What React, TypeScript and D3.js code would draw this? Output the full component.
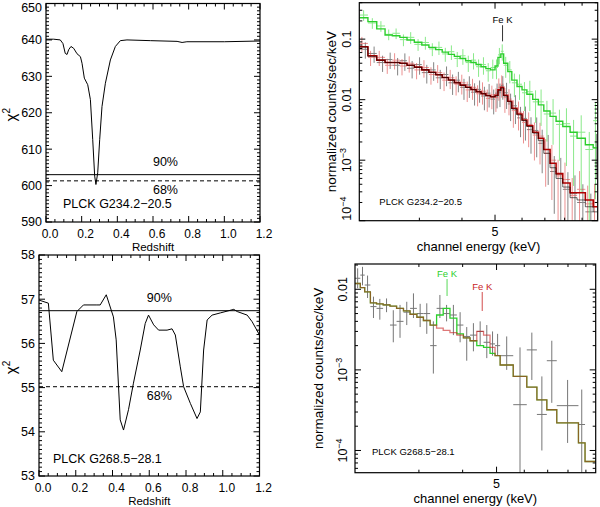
import * as d3 from "d3";
import React, { useEffect, useRef } from "react";

// redshift scan, PLCK G234.2-20.5
const zScanA = [0, 0.043, 0.08, 0.095, 0.108, 0.118, 0.127, 0.14, 0.155, 0.174, 0.193, 0.202, 0.215, 0.234, 0.249, 0.262, 0.273, 0.28, 0.29, 0.301, 0.314, 0.333, 0.361, 0.389, 0.417, 0.454, 0.585, 0.735, 0.763, 0.79, 1.0, 1.2];
const chiScanA = [640.2, 640.2, 640.0, 639.0, 636.3, 636.0, 637.3, 638.2, 637.7, 636.2, 635.4, 633.6, 629.5, 627.7, 623.6, 612.6, 602.6, 600.3, 603.5, 612.6, 621.7, 628.1, 634.5, 638.2, 639.8, 640.0, 639.8, 639.6, 639.3, 639.5, 639.5, 639.7];
const levelsA = [603.0, 601.3];

// redshift scan, PLCK G268.5-28.1
const zScanB = [0, 0.051, 0.078, 0.124, 0.206, 0.242, 0.315, 0.333, 0.366, 0.405, 0.42, 0.442, 0.46, 0.487, 0.514, 0.551, 0.578, 0.596, 0.624, 0.651, 0.697, 0.724, 0.742, 0.769, 0.787, 0.824, 0.86, 0.878, 0.896, 0.915, 0.942, 0.987, 1.06, 1.079, 1.133, 1.16, 1.2];
const chiScanB = [56.98, 56.91, 55.62, 55.36, 56.72, 56.87, 56.87, 56.87, 57.1, 56.6, 56.08, 54.27, 54.04, 54.5, 55.1, 55.85, 56.45, 56.64, 56.42, 56.3, 56.3, 56.33, 56.19, 55.47, 55.02, 54.64, 54.3, 54.45, 55.85, 56.53, 56.64, 56.69, 56.77, 56.72, 56.64, 56.49, 56.19];
const levelsB = [56.74, 55.02];

// spectrum, PLCK G234.2-20.5 (keV bin edges, counts/s/keV)
const edgesA = [2.0, 2.12, 2.25, 2.38, 2.5, 2.63, 2.76, 2.9, 3.05, 3.2, 3.35, 3.5, 3.65, 3.8, 3.95, 4.1, 4.25, 4.4, 4.55, 4.7, 4.85, 5.0, 5.1, 5.2, 5.3, 5.45, 5.6, 5.8, 6.0, 6.2, 6.45, 6.7, 6.95, 7.25, 7.55, 7.9, 8.3, 8.7, 9.2, 9.7, 10.0];
const greenModelA = [0.225, 0.195, 0.148, 0.117, 0.114, 0.107, 0.097, 0.089, 0.08, 0.073, 0.067, 0.061, 0.056, 0.052, 0.048, 0.044, 0.041, 0.038, 0.035, 0.0326, 0.031, 0.036, 0.05, 0.057, 0.04, 0.029, 0.021, 0.0165, 0.0145, 0.0123, 0.0101, 0.0082, 0.0065, 0.0053, 0.0044, 0.0036, 0.0029, 0.0023, 0.0018, 0.0016];
const redModelA = [0.075, 0.053, 0.045, 0.041, 0.041, 0.04, 0.037, 0.0345, 0.031, 0.0283, 0.0258, 0.0233, 0.0211, 0.0191, 0.0174, 0.016, 0.0147, 0.0136, 0.0126, 0.0117, 0.0112, 0.0118, 0.0145, 0.016, 0.0118, 0.0094, 0.0072, 0.0058, 0.0046, 0.0037, 0.0029, 0.0023, 0.0015, 0.00089, 0.0006, 0.00042, 0.00029, 0.00029, 0.00022, 0.00017];
const blackModelA = [0.074, 0.052, 0.045, 0.041, 0.041, 0.04, 0.037, 0.0343, 0.031, 0.0282, 0.0257, 0.0232, 0.021, 0.019, 0.0173, 0.0159, 0.0146, 0.0135, 0.0125, 0.0116, 0.0111, 0.0115, 0.014, 0.0155, 0.0115, 0.0092, 0.007, 0.0056, 0.0045, 0.0036, 0.0028, 0.0021, 0.0013, 0.00075, 0.0005, 0.00036, 0.00024, 0.00022, 0.00017, 0.00014];
const greenDataA = [0.25, 0.185, 0.165, 0.12, 0.125, 0.098, 0.107, 0.082, 0.088, 0.069, 0.073, 0.057, 0.062, 0.048, 0.053, 0.041, 0.045, 0.035, 0.038, 0.03, 0.034, 0.034, 0.055, 0.063, 0.037, 0.031, 0.019, 0.018, 0.013, 0.0135, 0.0092, 0.0092, 0.0058, 0.006, 0.0039, 0.004, 0.0025, 0.0029, 0.0015, 0.0045];
const redDataA = [0.085, 0.05, 0.05, 0.037, 0.045, 0.036, 0.04, 0.031, 0.034, 0.026, 0.028, 0.021, 0.023, 0.018, 0.019, 0.0145, 0.016, 0.0125, 0.0138, 0.0105, 0.012, 0.0108, 0.016, 0.018, 0.0108, 0.0102, 0.0066, 0.0062, 0.0042, 0.0039, 0.0026, 0.0025, 0.0013, 0.001, 0.00055, 0.00048, 0.00026, 0.00033, 0.00019, 0.0002];
const blackDataA = [0.068, 0.058, 0.041, 0.046, 0.037, 0.044, 0.033, 0.038, 0.028, 0.031, 0.023, 0.026, 0.019, 0.021, 0.016, 0.0175, 0.0133, 0.0148, 0.0115, 0.0128, 0.0102, 0.0128, 0.013, 0.0172, 0.013, 0.0085, 0.0079, 0.005, 0.0049, 0.0032, 0.0031, 0.0019, 0.0015, 0.00065, 0.00058, 0.00033, 0.00028, 0.0002, 0.00014, 0.0016];
// relative 1-sigma errors
const greenErrA = [0.2, 0.2, 0.2, 0.2, 0.2, 0.22, 0.22, 0.22, 0.24, 0.24, 0.25, 0.26, 0.27, 0.28, 0.29, 0.3, 0.3, 0.32, 0.32, 0.34, 0.35, 0.36, 0.3, 0.3, 0.38, 0.4, 0.42, 0.45, 0.5, 0.52, 0.55, 0.6, 0.65, 0.7, 0.75, 0.8, 0.85, 0.9, 0.95, 0.95];
const redErrA = [0.28, 0.28, 0.28, 0.28, 0.3, 0.3, 0.3, 0.3, 0.32, 0.32, 0.33, 0.34, 0.35, 0.35, 0.36, 0.37, 0.38, 0.38, 0.4, 0.4, 0.42, 0.42, 0.4, 0.4, 0.44, 0.46, 0.48, 0.5, 0.55, 0.58, 0.62, 0.66, 0.72, 0.78, 0.85, 0.9, 0.95, 1, 1, 1];
const blackErrA = [0.3, 0.3, 0.3, 0.3, 0.32, 0.32, 0.32, 0.32, 0.34, 0.34, 0.35, 0.36, 0.37, 0.37, 0.38, 0.39, 0.4, 0.4, 0.42, 0.42, 0.44, 0.44, 0.42, 0.42, 0.46, 0.48, 0.5, 0.52, 0.57, 0.6, 0.64, 0.68, 0.74, 0.8, 0.88, 0.92, 1, 1, 1, 0.7];
const feLineA = [5.26];

// spectrum, PLCK G268.5-28.1
const edgesB = [1.97, 2.04, 2.1, 2.18, 2.27, 2.37, 2.48, 2.59, 2.71, 2.83, 2.96, 3.09, 3.23, 3.37, 3.52, 3.68, 3.85, 4.02, 4.2, 4.39, 4.59, 4.79, 4.95, 5.12, 5.58, 6.1, 6.52, 6.96, 7.43, 8.57, 8.95, 9.6];
const greenModelB = [0.0118, 0.0105, 0.0093, 0.0068, 0.0066, 0.0064, 0.0062, 0.0058, 0.0054, 0.0049, 0.0045, 0.0041, 0.0036, 0.0048, 0.0058, 0.0044, 0.0028, 0.0025, 0.0023, 0.002, 0.0019, 0.0016, 0.0015, 0.00115, 0.00083, 0.00061, 0.000425, 0.00032, 0.00022, 0.000124, 0.000073];
const redModelB = [0.0118, 0.0105, 0.0093, 0.0068, 0.0066, 0.0064, 0.0062, 0.0058, 0.0054, 0.0049, 0.0045, 0.0041, 0.0036, 0.0033, 0.0031, 0.0029, 0.0027, 0.0025, 0.0023, 0.003, 0.0027, 0.0019, 0.0015, 0.00115, 0.00083, 0.00061, 0.000425, 0.00032, 0.00022, 0.000124, 0.000073];
const dataB = [0.0137, 0.015, 0.0113, 0.0061, 0.0058, 0.0064, 0.0036, 0.004, 0.0052, 0.0058, 0.005, 0.005, 0.002, 0.0058, 0.005, 0.0048, 0.0036, 0.0026, 0.0027, 0.003, 0.0022, 0.0021, 0.002, 0.0015, 0.00037, 0.00177, 0.00028, 0.0013, 0.00036, 0.00021, NaN];
const loB = [0.0103, 0.0112, 0.0078, 0.0044, 0.0042, 0.0052, 0.0022, 0.0025, 0.0036, 0.0044, 0.0034, 0.0028, 0.0009, 0.0044, 0.004, 0.0027, 0.0022, 0.0013, 0.0017, 0.002, 0.0014, 0.0015, 0.0015, 0.001, 0, 0.00075, 0.0001, 0.00039, 0.000124, 0, NaN];
const hiB = [0.0182, 0.019, 0.0148, 0.0081, 0.0076, 0.0077, 0.0055, 0.0064, 0.007, 0.0089, 0.0066, 0.0067, 0.004, 0.0085, 0.0064, 0.0064, 0.0052, 0.0034, 0.0038, 0.004, 0.0036, 0.003, 0.0028, 0.0026, 0.0019, 0.0029, 0.00083, 0.0023, 0.00075, 0.00057, NaN];
const feLinesB = [3.61, 4.55];

const FONT = "'Liberation Sans', Arial, Helvetica, sans-serif";
const GREEN = "#2ccf2c";
const RED = "#c81e1e";

function isMult(v: number, step: number) {
  return Math.abs(v / step - Math.round(v / step)) < 1e-6;
}

// inward ticks on all four sides + frame
function frameTicks(g: any, x: any, y: any, xt: any[], yt: any[]) {
  const [x0, x1] = x.range();
  const [yb, yt0] = y.range();
  const t = g.append("g").attr("stroke", "#000").attr("stroke-width", 1);
  xt.forEach(([v, m]: any) => {
    const p = x(v);
    const L = m ? 6 : 3;
    t.append("line").attr("x1", p).attr("x2", p).attr("y1", yb).attr("y2", yb - L);
    t.append("line").attr("x1", p).attr("x2", p).attr("y1", yt0).attr("y2", yt0 + L);
  });
  yt.forEach(([v, m]: any) => {
    const p = y(v);
    const L = m ? 6 : 3;
    t.append("line").attr("x1", x0).attr("x2", x0 + L).attr("y1", p).attr("y2", p);
    t.append("line").attr("x1", x1).attr("x2", x1 - L).attr("y1", p).attr("y2", p);
  });
  g.append("rect")
    .attr("x", x0).attr("y", yt0)
    .attr("width", x1 - x0).attr("height", yb - yt0)
    .attr("fill", "none").attr("stroke", "#000").attr("stroke-width", 1.2);
}

function drawScan(svg: any, o: any) {
  const x = d3.scaleLinear().domain([0, 1.2]).range([o.left, o.right]);
  const y = d3.scaleLinear().domain(o.yDomain).range([o.bottom, o.top]);
  const g = svg.append("g");

  const xt = d3.range(0, 1.2001, 0.05).map((v) => [v, isMult(v, 0.2)]);
  const yt = d3
    .range(o.yDomain[0], o.yDomain[1] + 1e-9, o.yMinor)
    .map((v) => [v, isMult(v - o.yDomain[0], o.yMajor)]);
  frameTicks(g, x, y, xt, yt);

  // tick labels
  g.append("g")
    .selectAll("text")
    .data(d3.range(0, 1.2001, 0.2))
    .join("text")
    .attr("x", (d: number) => x(d) + 4)
    .attr("y", o.bottom + 16)
    .attr("text-anchor", "middle")
    .attr("font-size", 12)
    .text((d: number) => d3.format(".1f")(d));
  g.append("g")
    .selectAll("text")
    .data(d3.range(o.yDomain[0], o.yDomain[1] + 1e-9, o.yMajor))
    .join("text")
    .attr("x", o.left - 4)
    .attr("y", (d: number) => Math.max(y(d) + 4.4, 12))
    .attr("text-anchor", "end")
    .attr("font-size", 12.5)
    .text((d: number) => d3.format("d")(d));

  g.append("text")
    .attr("x", (o.left + o.right) / 2)
    .attr("y", o.bottom + 29)
    .attr("text-anchor", "middle")
    .attr("font-size", 11.5)
    .text("Redshift");

  const yl = g.append("text")
    .attr("transform", `translate(16,${(o.top + o.bottom) / 2 + 2}) rotate(-90)`)
    .attr("text-anchor", "middle")
    .attr("font-size", 15);
  yl.append("tspan").text("\u03c7");
  yl.append("tspan").attr("dy", -6).attr("font-size", 10).text("2");

  // confidence levels
  g.append("line")
    .attr("x1", o.left).attr("x2", o.right)
    .attr("y1", y(o.levels[0])).attr("y2", y(o.levels[0]))
    .attr("stroke", "#000").attr("stroke-width", 1);
  g.append("line")
    .attr("x1", o.left).attr("x2", o.right)
    .attr("y1", y(o.levels[1])).attr("y2", y(o.levels[1]))
    .attr("stroke", "#000").attr("stroke-width", 1)
    .attr("stroke-dasharray", "4,3");
  g.append("text")
    .attr("x", x(o.pctZ)).attr("y", y(o.levels[0]) - 9)
    .attr("text-anchor", "middle").attr("font-size", 12.5).text("90%");
  g.append("text")
    .attr("x", x(o.pctZ)).attr("y", y(o.levels[1]) + 13)
    .attr("text-anchor", "middle").attr("font-size", 12.5).text("68%");

  // chi^2 curve
  const line = d3
    .line<number>()
    .x((_d, i) => x(o.z[i]))
    .y((d) => y(d));
  g.append("path")
    .attr("d", line(o.chi))
    .attr("fill", "none")
    .attr("stroke", "#000")
    .attr("stroke-width", 1);

  g.append("text")
    .attr("x", o.left + o.nameDx)
    .attr("y", o.bottom - o.nameDy)
    .attr("font-size", 12.5)
    .text(o.name);
}

function stepPts(edges: number[], vals: number[]) {
  const pts = vals.map((v, i) => [edges[i], v]);
  pts.push([edges[vals.length], vals[vals.length - 1]]);
  return pts;
}

function drawCrosses(g: any, x: any, y: any, edges: number[], vals: number[], lo: number[], hi: number[], color: string, pos: number, op: number) {
  const ymin = y.domain()[0];
  const bottom = y.range()[0];
  const c = g.append("g").attr("stroke", color).attr("stroke-width", 1).attr("opacity", op);
  vals.forEach((v, i) => {
    if (!isFinite(v)) return;
    const xa = x(edges[i]);
    const xb = x(edges[i + 1]);
    const xm = xa + (xb - xa) * pos;
    c.append("line").attr("x1", xa).attr("x2", xb).attr("y1", y(v)).attr("y2", y(v));
    const yl = lo[i] > ymin ? y(lo[i]) : bottom + 2;
    c.append("line").attr("x1", xm).attr("x2", xm).attr("y1", yl).attr("y2", y(hi[i]));
  });
}

function drawSpecFrame(svg: any, o: any) {
  const x = d3.scaleLog().domain(o.xDomain).range([o.left, o.right]);
  const y = d3.scaleLog().domain(o.yDomain).range([o.bottom, o.top]);
  const g = svg.append("g");

  const xt = [3, 4, 5, 6, 7, 8, 9].map((v) => [v, v === 5]);
  const yt: any[] = [];
  for (let e = -5; e <= 0; e++) {
    for (let k = 1; k <= 9; k++) {
      const v = k * Math.pow(10, e);
      if (v >= o.yDomain[0] && v <= o.yDomain[1]) yt.push([v, k === 1]);
    }
  }

  const clipId = "clip-" + o.id;
  svg.append("clipPath").attr("id", clipId)
    .append("rect")
    .attr("x", o.left).attr("y", o.top)
    .attr("width", o.right - o.left).attr("height", o.bottom - o.top);
  const plot = g.append("g").attr("clip-path", `url(#${clipId})`);

  // axis labels
  g.append("text")
    .attr("x", x(5)).attr("y", o.bottom + 15.5)
    .attr("text-anchor", "middle").attr("font-size", 12.5).text("5");
  g.append("text")
    .attr("x", (o.left + o.right) / 2).attr("y", o.bottom + 30)
    .attr("text-anchor", "middle").attr("font-size", 13)
    .text("channel energy (keV)");
  g.append("text")
    .attr("transform", `translate(${o.titleX},${(o.top + o.bottom) / 2}) rotate(-90)`)
    .attr("text-anchor", "middle").attr("font-size", 13.5)
    .text("normalized counts/sec/keV");

  const decs = yt.filter((d: any) => d[1]).map((d: any) => d[0]);
  decs.forEach((v: number) => {
    const e = Math.round(Math.log10(v));
    const atEdge = Math.abs(y(v) - o.bottom) < 3;
    const t = g.append("text")
      .attr("transform", `translate(${o.left - 8},${y(v)}) rotate(-90)`)
      .attr("text-anchor", atEdge ? "start" : "middle")
      .attr("font-size", 12.5);
    if (e >= -2) {
      t.text(e === -1 ? "0.1" : "0.01");
    } else {
      t.append("tspan").text("10");
      t.append("tspan").attr("dy", -5).attr("font-size", 9).text("\u2212" + -e);
    }
  });

  g.append("text")
    .attr("x", o.left + o.nameDx).attr("y", o.bottom - o.nameDy)
    .attr("font-size", 9.5).text(o.name);

  return { g, plot, x, y, xt, yt };
}

export default function App() {
  const ref = useRef<SVGSVGElement>(null);

  useEffect(() => {
    const svg = d3.select(ref.current).attr("font-family", FONT);
    svg.selectAll("*").remove();
    svg.append("rect").attr("width", 600).attr("height", 507).attr("fill", "#fff");

    drawScan(svg, {
      left: 46, right: 260, top: 3.5, bottom: 222,
      yDomain: [590, 650], yMajor: 10, yMinor: 1,
      z: zScanA, chi: chiScanA, levels: levelsA, pctZ: 0.67,
      name: "PLCK  G234.2\u221220.5", nameDx: 17, nameDy: 14,
    });
    drawScan(svg, {
      left: 39, right: 259.5, top: 255, bottom: 476,
      yDomain: [53, 58], yMajor: 1, yMinor: 0.1,
      z: zScanB, chi: chiScanB, levels: levelsB, pctZ: 0.655,
      name: "PLCK  G268.5\u221228.1", nameDx: 14, nameDy: 13,
    });

    // top-right spectrum
    const A = drawSpecFrame(svg, {
      id: "a", left: 359.3, right: 597.7, top: 2.7, bottom: 220.7,
      xDomain: [2, 10], yDomain: [1e-4, 0.4], titleX: 336,
      name: "PLCK G234.2\u221220.5", nameDx: 20, nameDy: 16,
    });
    const stepA = d3.line<any>().x((d) => A.x(d[0])).y((d) => A.y(d[1])).curve(d3.curveStepAfter);
    const loOf = (v: number[], f: number[]) => v.map((d, i) => d * (1 - f[i]));
    const hiOf = (v: number[], f: number[]) => v.map((d, i) => d * (1 + f[i]));
    drawCrosses(A.plot, A.x, A.y, edgesA, blackDataA, loOf(blackDataA, blackErrA), hiOf(blackDataA, blackErrA), "#333", 0.7, 0.6);
    drawCrosses(A.plot, A.x, A.y, edgesA, redDataA, loOf(redDataA, redErrA), hiOf(redDataA, redErrA), "#e04848", 0.3, 0.6);
    drawCrosses(A.plot, A.x, A.y, edgesA, greenDataA, loOf(greenDataA, greenErrA), hiOf(greenDataA, greenErrA), "#58e058", 0.5, 0.7);
    A.plot.append("path").attr("d", stepA(stepPts(edgesA, greenModelA)))
      .attr("fill", "none").attr("stroke", GREEN).attr("stroke-width", 1.4);
    A.plot.append("path").attr("d", stepA(stepPts(edgesA, redModelA)))
      .attr("fill", "none").attr("stroke", "#b00000").attr("stroke-width", 1.6);
    A.plot.append("path").attr("d", stepA(stepPts(edgesA, blackModelA)))
      .attr("fill", "none").attr("stroke", "#000").attr("stroke-width", 1).attr("opacity", 0.6);
    frameTicks(A.g, A.x, A.y, A.xt, A.yt);
    feLineA.forEach((e) => {
      A.g.append("line").attr("x1", A.x(e)).attr("x2", A.x(e))
        .attr("y1", A.y(0.17)).attr("y2", A.y(0.092))
        .attr("stroke", "#000").attr("stroke-width", 0.8);
      A.g.append("text").attr("x", A.x(e)).attr("y", A.y(0.17) - 2)
        .attr("text-anchor", "middle").attr("font-size", 9.5).text("Fe K");
    });

    // bottom-right spectrum
    const B = drawSpecFrame(svg, {
      id: "b", left: 355, right: 595.7, top: 264, bottom: 472.7,
      xDomain: [1.97, 9.6], yDomain: [5.3e-5, 0.0206], titleX: 323,
      name: "PLCK G268.5\u221228.1", nameDx: 17, nameDy: 18,
    });
    const stepB = d3.line<any>().x((d) => B.x(d[0])).y((d) => B.y(d[1])).curve(d3.curveStepAfter);
    drawCrosses(B.plot, B.x, B.y, edgesB, dataB, loB, hiB, "#555", 0.5, 0.8);
    B.plot.append("path").attr("d", stepB(stepPts(edgesB, greenModelB)))
      .attr("fill", "none").attr("stroke", GREEN).attr("stroke-width", 1.3);
    B.plot.append("path").attr("d", stepB(stepPts(edgesB, redModelB)))
      .attr("fill", "none").attr("stroke", RED).attr("stroke-width", 1.3).attr("opacity", 0.6);
    frameTicks(B.g, B.x, B.y, B.xt, B.yt);
    const feTops = [0.0134, 0.00926];
    const feBots = [0.00826, 0.00538];
    const feCols = [GREEN, RED];
    feLinesB.forEach((e, i) => {
      B.g.append("line").attr("x1", B.x(e)).attr("x2", B.x(e))
        .attr("y1", B.y(feTops[i])).attr("y2", B.y(feBots[i]))
        .attr("stroke", feCols[i]).attr("stroke-width", 0.8);
      B.g.append("text").attr("x", B.x(e)).attr("y", B.y(feTops[i]) - 2)
        .attr("text-anchor", "middle").attr("font-size", 9.5)
        .attr("fill", feCols[i]).text("Fe K");
    });
  }, []);

  return (
    <svg
      ref={ref}
      width={600}
      height={507}
      style={{ position: "absolute", left: 0, top: 0 }}
    />
  );
}
